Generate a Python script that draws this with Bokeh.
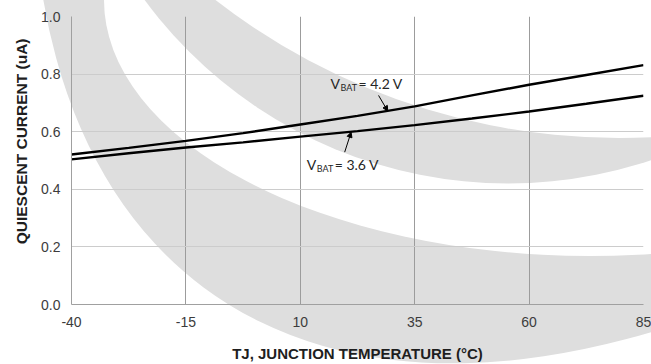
from urllib.parse import quote
from bokeh.plotting import figure
from bokeh.models import Range1d, FixedTicker, PrintfTickFormatter, Arrow, NormalHead, Title
from bokeh.core.properties import value
from bokeh.embed import file_html
from bokeh.resources import INLINE

# ---- data ----
temperature_c = [-40, -27.5, -15, -2.5, 10, 22.5, 35, 47.5, 60, 72.5, 85]
iq_vbat_4v2 = [0.521, 0.544, 0.568, 0.595, 0.625, 0.655, 0.688, 0.726, 0.763, 0.797, 0.831]
iq_vbat_3v6 = [0.504, 0.525, 0.545, 0.563, 0.583, 0.602, 0.623, 0.646, 0.670, 0.697, 0.725]
x_ticks = [-40, -15, 10, 35, 60, 85]
y_ticks = [0.0, 0.2, 0.4, 0.6, 0.8, 1.0]
series_values = ["4.2 V", "3.6 V"]

# annotation anchors (data units)
label_42 = (16.6, 0.769)
arrow_42 = ((27.1, 0.726), (29.1, 0.672))
label_36 = (11.4, 0.486)
arrow_36 = ((19.7, 0.529), (21.1, 0.598))

FONT = "Liberation Sans"
ANN_FONT = "Lato"

# ---- decorative background watermark (page pixel geometry, painted by CSS) ----
WM_GRAY = "#dedede"
# (cx, cy, rx, ry, rotation_deg, fill) painted in order
WATERMARK = [(953, -718, 1254, 666, -53.3, WM_GRAY),
             (590, 0, 486, 256, 0, "#ffffff"),
             (508, -268, 451.5, 451.5, 0, WM_GRAY),
             (619, -521, 659, 659, 0, "#ffffff")]
svg = ('<svg xmlns="http://www.w3.org/2000/svg" width="651" height="364" viewBox="0 0 651 364">'
       '<rect x="0" y="0" width="651" height="364" fill="#ffffff"/>'
       + "".join(f'<ellipse cx="{cx}" cy="{cy}" rx="{rx}" ry="{ry}" fill="{c}" '
                 f'transform="rotate({rot} {cx} {cy})"/>'
                 for cx, cy, rx, ry, rot, c in WATERMARK)
       + '</svg>')
wm_uri = "data:image/svg+xml;utf8," + quote(svg)

p = figure(frame_width=572, frame_height=288,
           x_range=Range1d(-40, 85), y_range=Range1d(0, 1),
           output_backend="svg", toolbar_location=None,
           min_border_left=71, min_border_right=8, min_border_top=16, min_border_bottom=60,
           background_fill_alpha=0, border_fill_alpha=0)
p.outline_line_color = None
p.styles = {"background-color": "#ffffff",
            "background-image": f'url("{wm_uri}")',
            "background-repeat": "no-repeat",
            "background-position": "0px 0px",
            "background-size": "651px 364px"}

# ---- axes & grid ----
p.xaxis.ticker = FixedTicker(ticks=x_ticks)
p.yaxis.ticker = FixedTicker(ticks=y_ticks)
p.xaxis.formatter = PrintfTickFormatter(format="%d")
p.yaxis.formatter = PrintfTickFormatter(format="%.1f")
for ax in (p.xaxis, p.yaxis):
    ax.major_tick_line_color = None
    ax.minor_tick_line_color = None
    ax.major_tick_out = 0
    ax.major_tick_in = 0
    ax.axis_line_color = "#a0a0a0"
    ax.major_label_text_font = FONT
    ax.major_label_text_font_size = "14px"
    ax.major_label_text_color = "#3c3c3c"
    ax.axis_label_text_font = FONT
    ax.axis_label_text_font_style = "bold"
    ax.axis_label_text_color = "#1e1e1e"
p.xaxis.axis_label = "TJ, JUNCTION TEMPERATURE (°C)"
p.xaxis.axis_label_text_font_size = "15px"
p.xaxis.major_label_standoff = 12
p.yaxis.major_label_standoff = 11
p.xaxis.axis_label_standoff = 15

# y-axis title as a side title so it can sit slightly above the frame centre
p.add_layout(Title(text="QUIESCENT CURRENT (uA)", align="right", offset=22, standoff=18,
                   text_font=FONT, text_font_style="bold", text_font_size="15.5px",
                   text_color="#1e1e1e"), "left")

p.xgrid.grid_line_color = "#9c9c9c"
p.ygrid.grid_line_color = "#cccccc"
p.xgrid.grid_line_width = 1
p.ygrid.grid_line_width = 1

# ---- series ----
p.line(temperature_c, iq_vbat_4v2, line_color="black", line_width=2.4)
p.line(temperature_c, iq_vbat_3v6, line_color="black", line_width=2.4)

# ---- annotations ----
def vbat_label(anchor, volts):
    x, y = anchor
    p.text(x=[x], y=[y], text=["V"], text_font=value(ANN_FONT), text_font_size="14px",
           text_baseline="middle", text_align="left", text_color="#262626")
    p.text(x=[x], y=[y], text=["BAT"], text_font=value(ANN_FONT), text_font_size="9px",
           text_baseline="middle", text_align="left", text_color="#262626",
           x_offset=10, y_offset=4)
    p.text(x=[x], y=[y], text=["= " + volts], text_font=value(ANN_FONT), text_font_size="14px",
           text_baseline="middle", text_align="left", text_color="#262626",
           x_offset=28)

def pointer(seg):
    (xs, ys), (xe, ye) = seg
    p.add_layout(Arrow(end=NormalHead(size=5, fill_color="black", line_color="black"),
                       x_start=xs, y_start=ys, x_end=xe, y_end=ye,
                       line_color="black", line_width=1))

vbat_label(label_42, series_values[0])
pointer(arrow_42)
vbat_label(label_36, series_values[1])
pointer(arrow_36)

open("out.html", "w").write(file_html(p, INLINE))
